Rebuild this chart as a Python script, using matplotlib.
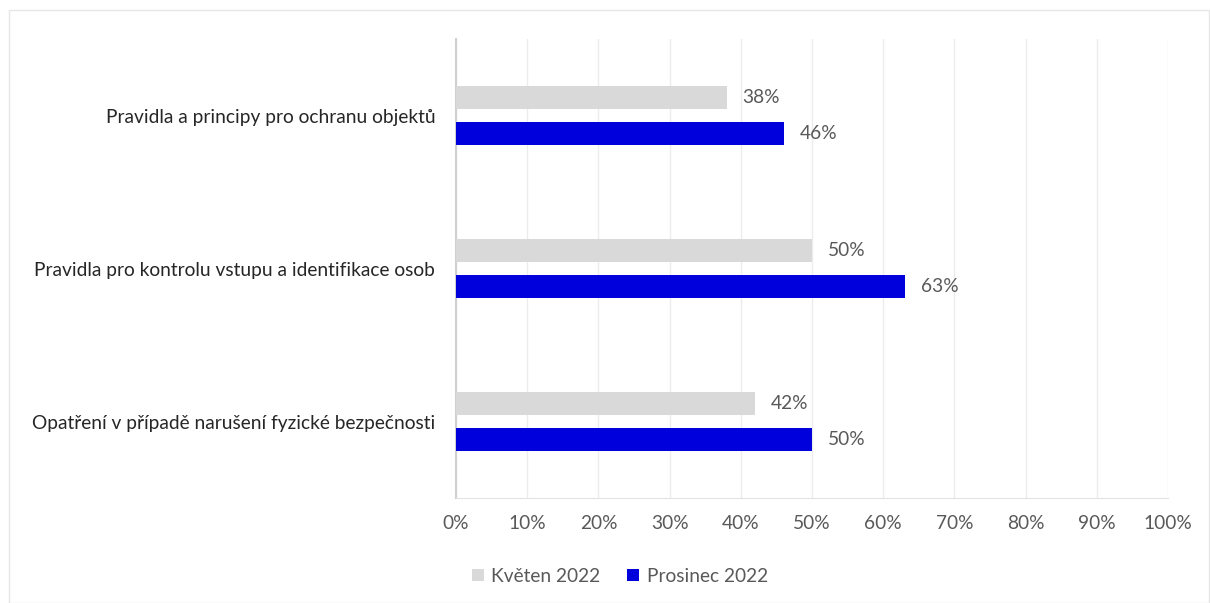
import numpy as np
import matplotlib.pyplot as plt
from matplotlib.patches import Rectangle
from matplotlib.ticker import FuncFormatter

plt.rcParams['font.family'] = ['Lato', 'DejaVu Sans']

categories = ['Pravidla a principy pro ochranu objektů',
              'Pravidla pro kontrolu vstupu a identifikace osob',
              'Opatření v případě narušení fyzické bezpečnosti']
kveten = [38, 50, 42]
prosinec = [46, 63, 50]
series_names = ['Květen 2022', 'Prosinec 2022']
colors = ['#d9d9d9', '#0000dc']

W, H = 1210, 603
fs = 13.8
fig = plt.figure(figsize=(W / 100, H / 100), dpi=100)

# light frame round the whole chart
fig.patches.append(Rectangle((9 / W, 0), 1 - 9 / W - 1 / W, 1 - 10 / H,
                             transform=fig.transFigure, fill=False,
                             edgecolor='#e6e6e6', linewidth=1))

ax = fig.add_axes([456 / W, 1 - 498 / H, (1168 - 456) / W, (498 - 39) / H])

y = np.arange(len(categories))
off = 0.118
h = 0.15
b1 = ax.barh(y - off, kveten, height=h, color=colors[0], label=series_names[0], zorder=3)
b2 = ax.barh(y + off, prosinec, height=h, color=colors[1], label=series_names[1], zorder=3)

for bars, vals in [(b1, kveten), (b2, prosinec)]:
    for bar, v in zip(bars, vals):
        ax.annotate(f'{v}%', (v, bar.get_y() + bar.get_height() / 2),
                    xytext=(16, 0), textcoords='offset pixels',
                    va='center', ha='left', fontsize=fs, color='#595959')

ax.set_xlim(0, 100)
ax.set_ylim(len(categories) - 0.5, -0.5)
ax.set_xticks(np.arange(0, 101, 10))
ax.xaxis.set_major_formatter(FuncFormatter(lambda v, p: f'{v:.0f}%'))
ax.set_yticks(y)
ax.set_yticklabels(categories)
ax.tick_params(axis='x', length=0, pad=12, labelsize=fs, labelcolor='#595959')
ax.tick_params(axis='y', length=0, pad=15, labelsize=fs, labelcolor='#262626')
ax.grid(axis='x', color='#ececec', linewidth=1, zorder=0)

for s in ['top', 'right']:
    ax.spines[s].set_visible(False)
ax.spines['bottom'].set_color('#e3e3e3')
ax.spines['left'].set_color('#d0d0d0')
ax.spines['left'].set_linewidth(1.5)

fig.legend(handles=[b1, b2], loc='center', bbox_to_anchor=(620 / W, 1 - 576 / H),
           ncol=2, frameon=False, fontsize=fs, labelcolor='#595959',
           handlelength=0.6, handleheight=0.6, handletextpad=0.4, columnspacing=1.4)

fig.savefig('out.png', dpi=100)
